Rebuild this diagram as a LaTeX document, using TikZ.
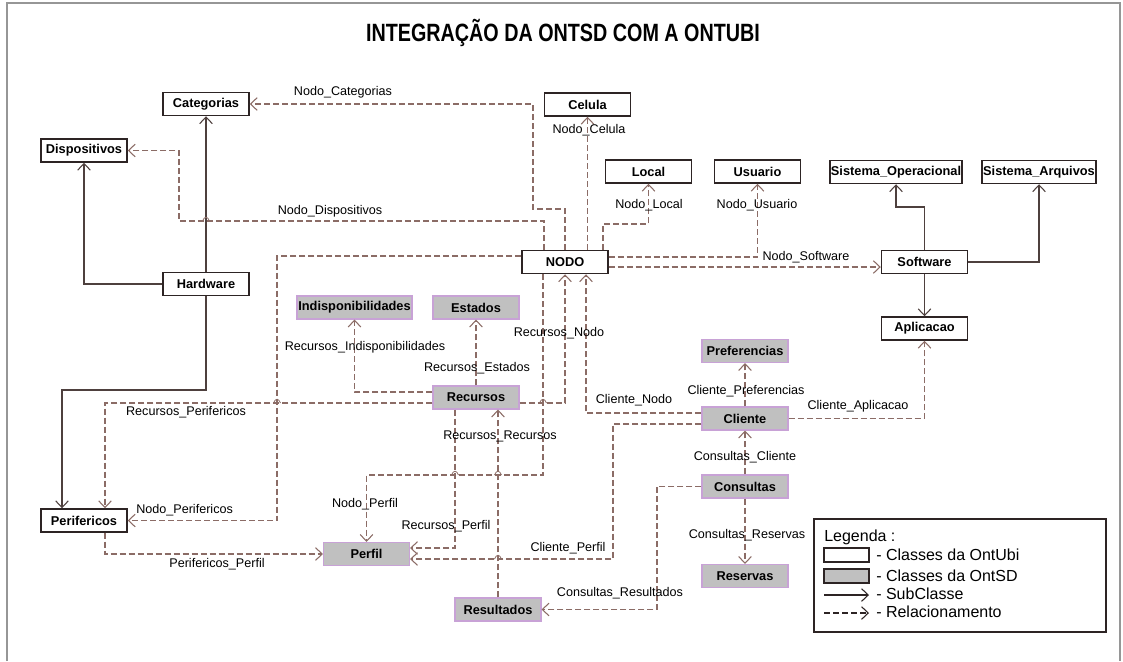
\documentclass[tikz,border=0pt]{standalone}
\usepackage{fontspec}
\setmainfont{Liberation Sans}
\usepackage{graphicx}
\usetikzlibrary{arrows.meta}
\definecolor{relc}{RGB}{139,108,102}
\definecolor{subc}{RGB}{78,64,62}
\definecolor{boxc}{RGB}{45,36,36}
\definecolor{grayf}{RGB}{192,192,192}
\definecolor{purp}{RGB}{200,162,214}
\definecolor{framec}{RGB}{150,150,150}
\newcommand{\linehop}[2]{\draw[relc,line width=0.6pt] (#1-3.5,#2) .. controls (#1-1.5,#2-5) and (#1+1.5,#2-5) .. (#1+3.5,#2);}
\begin{document}
\begin{tikzpicture}[x=0.75pt,y=-0.75pt,
  font=\fontsize{9.45pt}{11pt}\selectfont,
  boxbase/.style={minimum width=64.5pt,minimum height=17.25pt,inner sep=0pt,font=\fontsize{9.6pt}{11pt}\selectfont\bfseries},
  ubi/.style={boxbase,draw=boxc,line width=1.1pt,fill=white},
  sd/.style={boxbase,draw=purp,line width=0.8pt,fill=grayf},
  barb/.tip={Straight Barb[length=5pt,width=9.5pt]},
  rel/.style={draw=relc,line width=0.8pt,dash pattern=on 4.5pt off 2.25pt,-barb},
  sub/.style={draw=subc,line width=0.8pt,-barb},
  lbl/.style={inner sep=0pt,text=black},
  leg/.style={inner sep=0pt,anchor=west,font=\fontsize{12pt}{14pt}\selectfont}
]
\useasboundingbox (0,0) rectangle (1123,661);
\draw[framec,line width=0.8pt] (7,661) -- (7,3) -- (1120,3) -- (1120,661);

\node (title) at (563,33) {\scalebox{0.79}[1]{\fontsize{18.75pt}{22pt}\selectfont\bfseries INTEGRAÇÃO DA ONTSD COM A ONTUBI}};

% OntUbi classes
\node[ubi] (Categorias) at (206,104) {Categorias};
\node[ubi] (Dispositivos) at (84,150.5) {Dispositivos};
\node[ubi] (Celula) at (587.5,104.5) {Celula};
\node[ubi] (Local) at (648.5,171.5) {Local};
\node[ubi] (Usuario) at (757.5,171.5) {Usuario};
\node[ubi,minimum width=99pt] (SisOp) at (896,172) {Sistema\_Operacional};
\node[ubi,minimum width=85.5pt] (SisArq) at (1039,172) {Sistema\_Arquivos};
\node[ubi] (NODO) at (565,262) {NODO};
\node[ubi] (Software) at (924.5,262) {Software};
\node[ubi] (Hardware) at (206,284) {Hardware};
\node[ubi] (Aplicacao) at (924.5,328.5) {Aplicacao};
\node[ubi] (Perifericos) at (84,520.5) {Perifericos};

% OntSD classes
\node[sd,minimum width=86.25pt] (Indisp) at (354.5,307.5) {Indisponibilidades};
\node[sd] (Estados) at (476,307.5) {Estados};
\node[sd] (Preferencias) at (745,351) {Preferencias};
\node[sd] (Recursos) at (476,397.5) {Recursos};
\node[sd] (Cliente) at (745,418.5) {Cliente};
\node[sd] (Consultas) at (745,486.5) {Consultas};
\node[sd] (Perfil) at (366.5,554) {Perfil};
\node[sd] (Reservas) at (745,576) {Reservas};
\node[sd] (Resultados) at (498,609.5) {Resultados};

% subclass links
\draw[sub] (Hardware.north) -- (Categorias.south);
\draw[sub] (Hardware.west) -| (Dispositivos.south);
\draw[sub] (Hardware.south) |- (62,390) -- (Perifericos.north -| 62,0);
\draw[sub] (Software.north) |- (SisOp.south |- 0,207) -- (SisOp.south);
\draw[sub] (Software.east) -| (SisArq.south);
\draw[sub] (Software.south) -- (Aplicacao.north);

% relations
\draw[rel] (NODO.north) |- (533,209) |- (Categorias.east);
\draw[rel] (NODO.north -| 544,0) |- (179,221) |- (Dispositivos.east);
\draw[rel] (Celula.south |- NODO.north) -- (Celula.south);
\draw[rel] (NODO.north -| 603,0) |- (Local.south |- 0,224) -- (Local.south);
\draw[rel] (NODO.east |- 0,257) -| (Usuario.south);
\draw[rel] (NODO.east |- 0,267) -- (Software.west |- 0,267);
\draw[rel] (NODO.west |- 0,256) -| (Perifericos.east -| 277,0) -- (Perifericos.east);
\draw[rel] (Recursos.west |- 0,403) -| (Perifericos.north -| 105,0);
\draw[rel] (Recursos.west |- 0,392) -| (Indisp.south);
\draw[rel] (Recursos.north) -- (Estados.south);
\draw[rel] (Recursos.east |- 0,403) -| (NODO.south);
\draw[rel] (Cliente.west |- 0,413) -| (NODO.south -| 586,0);
\draw[rel] (NODO.south -| 543,0) |- (Perfil.north |- 0,475) -- (Perfil.north);
\draw[rel] (Recursos.south -| 455,0) |- (Perfil.east |- 0,548);
\draw[rel] (Resultados.north) -- (Recursos.south -| Resultados.north);
\draw[rel] (Cliente.west |- 0,424) -| (613,559) -- (Perfil.east |- 0,559);
\draw[rel] (Cliente.north) -- (Preferencias.south);
\draw[rel] (Cliente.east) -| (Aplicacao.south);
\draw[rel] (Consultas.north) -- (Cliente.south);
\draw[rel] (Consultas.south) -- (Reservas.north);
\draw[rel] (Consultas.west) -| (Resultados.east -| 657,0) -- (Resultados.east);
\draw[rel] (Perifericos.south -| 105,0) |- (Perfil.west);

% line hops at crossings
\linehop{206}{221}
\linehop{277}{403}
\linehop{543}{403}
\linehop{455}{475}
\linehop{498}{475}
\linehop{498}{559}

% labels
\node[lbl] (l1) at (343,92) {Nodo\_Categorias};
\node[lbl] (l2) at (330,211) {Nodo\_Dispositivos};
\node[lbl] (l3) at (589,130) {Nodo\_Celula};
\node[lbl] (l4) at (649,205) {Nodo\_Local};
\node[lbl] (l5) at (757,205) {Nodo\_Usuario};
\node[lbl] (l6) at (806,257) {Nodo\_Software};
\node[lbl,anchor=west] (l7) at (136,510) {Nodo\_Perifericos};
\node[lbl] (l8) at (186,412) {Recursos\_Perifericos};
\node[lbl] (l9) at (365,347) {Recursos\_Indisponibilidades};
\node[lbl] (l10) at (477,368) {Recursos\_Estados};
\node[lbl] (l11) at (559,333) {Recursos\_Nodo};
\node[lbl] (l12) at (634,400) {Cliente\_Nodo};
\node[lbl] (l13) at (365,504) {Nodo\_Perfil};
\node[lbl] (l14) at (446,526) {Recursos\_Perfil};
\node[lbl] (l15) at (500,436) {Recursos\_Recursos};
\node[lbl] (l16) at (568,548) {Cliente\_Perfil};
\node[lbl] (l17) at (746,391) {Cliente\_Preferencias};
\node[lbl] (l18) at (858,406) {Cliente\_Aplicacao};
\node[lbl] (l19) at (745,457) {Consultas\_Cliente};
\node[lbl] (l20) at (747,535) {Consultas\_Reservas};
\node[lbl] (l21) at (620,593) {Consultas\_Resultados};
\node[lbl] (l22) at (217,564) {Perifericos\_Perfil};

% legend
\node[draw=boxc,line width=0.9pt,minimum width=219pt,minimum height=84.75pt,inner sep=0pt] (legbox) at (960,575.5) {};
\node[leg] (legt) at (824,537) {Legenda :};
\node[draw=boxc,line width=0.9pt,fill=white,minimum width=33.75pt,minimum height=10.5pt,inner sep=0pt] (legw) at (846.5,555) {};
\node[leg] (legwt) at (876,555) {- Classes da OntUbi};
\node[draw=boxc,line width=0.9pt,fill=grayf,minimum width=33.75pt,minimum height=10.5pt,inner sep=0pt] (legg) at (846.5,576) {};
\node[leg] (leggt) at (876,576) {- Classes da OntSD};
\coordinate (ls1) at (824,595);
\coordinate (le1) at (869,595);
\draw[sub,draw=boxc] (ls1) -- (le1);
\node[leg] (legst) at (876,594) {- SubClasse};
\coordinate (ls2) at (824,613);
\coordinate (le2) at (869,613);
\draw[rel,draw=boxc] (ls2) -- (le2);
\node[leg] (legrt) at (876,612) {- Relacionamento};
\end{tikzpicture}
\end{document}
